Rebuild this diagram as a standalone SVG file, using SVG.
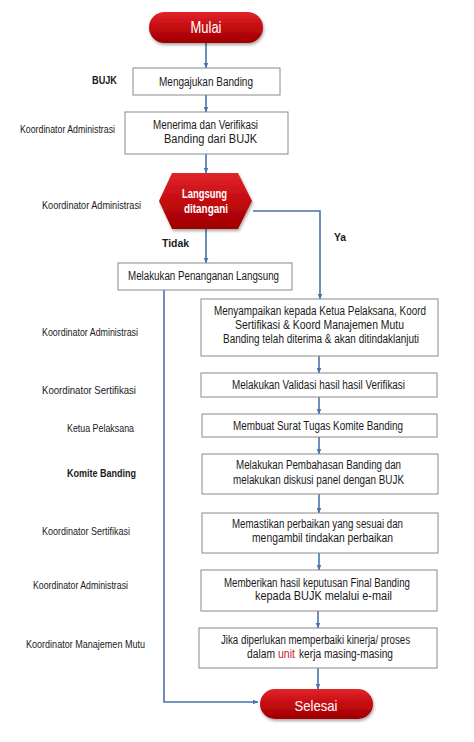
<svg xmlns="http://www.w3.org/2000/svg" width="474" height="742" viewBox="0 0 474 742">
<defs>
<linearGradient id="rg" x1="0" y1="0" x2="0" y2="1">
<stop offset="0" stop-color="#e0262b"/>
<stop offset="0.5" stop-color="#c40a10"/>
<stop offset="1" stop-color="#9e0000"/>
</linearGradient>
<filter id="sh" x="-20%" y="-20%" width="140%" height="160%">
<feDropShadow dx="1" dy="2" stdDeviation="1.5" flood-color="#000" flood-opacity="0.35"/>
</filter>
<marker id="ah" viewBox="0 0 10 10" refX="9" refY="5" markerWidth="6" markerHeight="6" orient="auto" markerUnits="userSpaceOnUse">
<path d="M0,1 L10,5 L0,9 z" fill="#4a72ac"/>
</marker>
<style>
.box{fill:#fff;stroke:#8a8a8a;stroke-width:1}
.t{font-family:"Liberation Sans",Arial,sans-serif;font-size:12px;fill:#1a1a1a}
.lb{font-family:"Liberation Sans",Arial,sans-serif;font-size:11px;fill:#1a1a1a}
.b{font-weight:bold}
.w{font-family:"Liberation Sans",Arial,sans-serif;fill:#fff}
.c{fill:none;stroke:#4a72ac;stroke-width:1.6;marker-end:url(#ah)}
</style>
</defs>
<rect width="474" height="742" fill="#fff"/>

<g id="connectors">
<line class="c" x1="206" y1="43" x2="206" y2="68"/>
<line class="c" x1="206" y1="95" x2="206" y2="112"/>
<line class="c" x1="206" y1="154" x2="206" y2="173"/>
<line class="c" x1="206" y1="229" x2="206" y2="263"/>
<polyline class="c" points="253,211 320,211 320,299"/>
<polyline class="c" points="164,290 164,702 258,702"/>
<line class="c" x1="319" y1="356" x2="319" y2="373"/>
<line class="c" x1="319" y1="397" x2="319" y2="414"/>
<line class="c" x1="319" y1="437" x2="319" y2="454"/>
<line class="c" x1="319" y1="494" x2="319" y2="513"/>
<line class="c" x1="319" y1="553" x2="319" y2="570"/>
<line class="c" x1="318" y1="611" x2="318" y2="628"/>
<line class="c" x1="318" y1="668" x2="318" y2="689"/>
</g>

<g id="mulai">
<rect x="149" y="12" width="114" height="31" rx="15.5" fill="url(#rg)" filter="url(#sh)"/>
<text class="w" x="206" y="33" font-size="16" text-anchor="middle" textLength="31" lengthAdjust="spacingAndGlyphs">Mulai</text>
</g>

<g id="mengajukan">
<text class="lb b" x="92" y="84" textLength="25" lengthAdjust="spacingAndGlyphs">BUJK</text>
<rect class="box" x="133" y="68" width="147" height="27"/>
<text class="t" x="159" y="85.5" textLength="94" lengthAdjust="spacingAndGlyphs">Mengajukan Banding</text>
</g>

<g id="menerima">
<text class="lb" x="20" y="133" textLength="95" lengthAdjust="spacingAndGlyphs">Koordinator Administrasi</text>
<rect class="box" x="125" y="112" width="163" height="42"/>
<text class="t" x="153" y="129" textLength="105" lengthAdjust="spacingAndGlyphs">Menerima dan Verifikasi</text>
<text class="t" x="164" y="143" textLength="93" lengthAdjust="spacingAndGlyphs">Banding dari BUJK</text>
</g>

<g id="langsung">
<text class="lb" x="42" y="209" textLength="99" lengthAdjust="spacingAndGlyphs">Koordinator Administrasi</text>
<polygon points="159,201 172,173 238,173 252,201 238,229 172,229" fill="url(#rg)" filter="url(#sh)"/>
<text class="w b" x="182" y="198" font-size="12" textLength="45" lengthAdjust="spacingAndGlyphs">Langsung</text>
<text class="w b" x="184" y="213" font-size="12" textLength="44" lengthAdjust="spacingAndGlyphs">ditangani</text>
</g>

<g id="labels-decision">
<text class="lb b" x="162" y="247" font-size="12" textLength="27" lengthAdjust="spacingAndGlyphs">Tidak</text>
<text class="lb b" x="334" y="241" font-size="12" textLength="12" lengthAdjust="spacingAndGlyphs">Ya</text>
</g>

<g id="penanganan">
<rect class="box" x="118" y="263" width="174" height="27"/>
<text class="t" x="128" y="280" textLength="151" lengthAdjust="spacingAndGlyphs">Melakukan Penanganan Langsung</text>
</g>

<g id="menyampaikan">
<text class="lb" x="42" y="336" textLength="96" lengthAdjust="spacingAndGlyphs">Koordinator Administrasi</text>
<rect class="box" x="201" y="299" width="237" height="57"/>
<text class="t" x="214" y="315" textLength="212" lengthAdjust="spacingAndGlyphs">Menyampaikan kepada Ketua Pelaksana, Koord</text>
<text class="t" x="235" y="329" textLength="169" lengthAdjust="spacingAndGlyphs">Sertifikasi &amp; Koord Manajemen Mutu</text>
<text class="t" x="223" y="343" textLength="196" lengthAdjust="spacingAndGlyphs">Banding telah diterima &amp; akan ditindaklanjuti</text>
</g>

<g id="validasi">
<text class="lb" x="42" y="394" textLength="94" lengthAdjust="spacingAndGlyphs">Koordinator Sertifikasi</text>
<rect class="box" x="201" y="373" width="236" height="24"/>
<text class="t" x="232" y="389" textLength="173" lengthAdjust="spacingAndGlyphs">Melakukan Validasi hasil hasil Verifikasi</text>
</g>

<g id="surat-tugas">
<text class="lb" x="67" y="432" textLength="67" lengthAdjust="spacingAndGlyphs">Ketua Pelaksana</text>
<rect class="box" x="202" y="414" width="235" height="23"/>
<text class="t" x="233" y="430" textLength="170" lengthAdjust="spacingAndGlyphs">Membuat Surat Tugas Komite Banding</text>
</g>

<g id="pembahasan">
<text class="lb b" x="67" y="477" textLength="69" lengthAdjust="spacingAndGlyphs">Komite Banding</text>
<rect class="box" x="202" y="454" width="236" height="40"/>
<text class="t" x="236" y="469" textLength="165" lengthAdjust="spacingAndGlyphs">Melakukan Pembahasan Banding dan</text>
<text class="t" x="233" y="484" textLength="171" lengthAdjust="spacingAndGlyphs">melakukan diskusi panel dengan BUJK</text>
</g>

<g id="memastikan">
<text class="lb" x="42" y="535" textLength="88" lengthAdjust="spacingAndGlyphs">Koordinator Sertifikasi</text>
<rect class="box" x="202" y="513" width="236" height="40"/>
<text class="t" x="232" y="528" textLength="171" lengthAdjust="spacingAndGlyphs">Memastikan perbaikan yang sesuai dan</text>
<text class="t" x="252" y="542" textLength="141" lengthAdjust="spacingAndGlyphs">mengambil tindakan perbaikan</text>
</g>

<g id="keputusan">
<text class="lb" x="33" y="589" textLength="95" lengthAdjust="spacingAndGlyphs">Koordinator Administrasi</text>
<rect class="box" x="201" y="570" width="236" height="41"/>
<text class="t" x="224" y="587" textLength="186" lengthAdjust="spacingAndGlyphs">Memberikan hasil keputusan Final Banding</text>
<text class="t" x="255" y="600" textLength="137" lengthAdjust="spacingAndGlyphs">kepada BUJK melalui e-mail</text>
</g>

<g id="perbaikan">
<text class="lb" x="26" y="648" textLength="119" lengthAdjust="spacingAndGlyphs">Koordinator Manajemen Mutu</text>
<rect class="box" x="199" y="628" width="238" height="40"/>
<text class="t" x="221" y="644" textLength="189" lengthAdjust="spacingAndGlyphs">Jika diperlukan memperbaiki kinerja/ proses</text>
<text class="t" x="247" y="658" textLength="28" lengthAdjust="spacingAndGlyphs">dalam</text>
<text class="t" x="278" y="658" textLength="17" lengthAdjust="spacingAndGlyphs" fill="#c0262c" style="fill:#c0262c">unit</text>
<text class="t" x="299" y="658" textLength="94" lengthAdjust="spacingAndGlyphs">kerja masing-masing</text>
</g>

<g id="selesai">
<rect x="260" y="689" width="113" height="30" rx="15" fill="url(#rg)" filter="url(#sh)"/>
<text class="w" x="316" y="711" font-size="15" text-anchor="middle" textLength="43" lengthAdjust="spacingAndGlyphs">Selesai</text>
</g>
</svg>
